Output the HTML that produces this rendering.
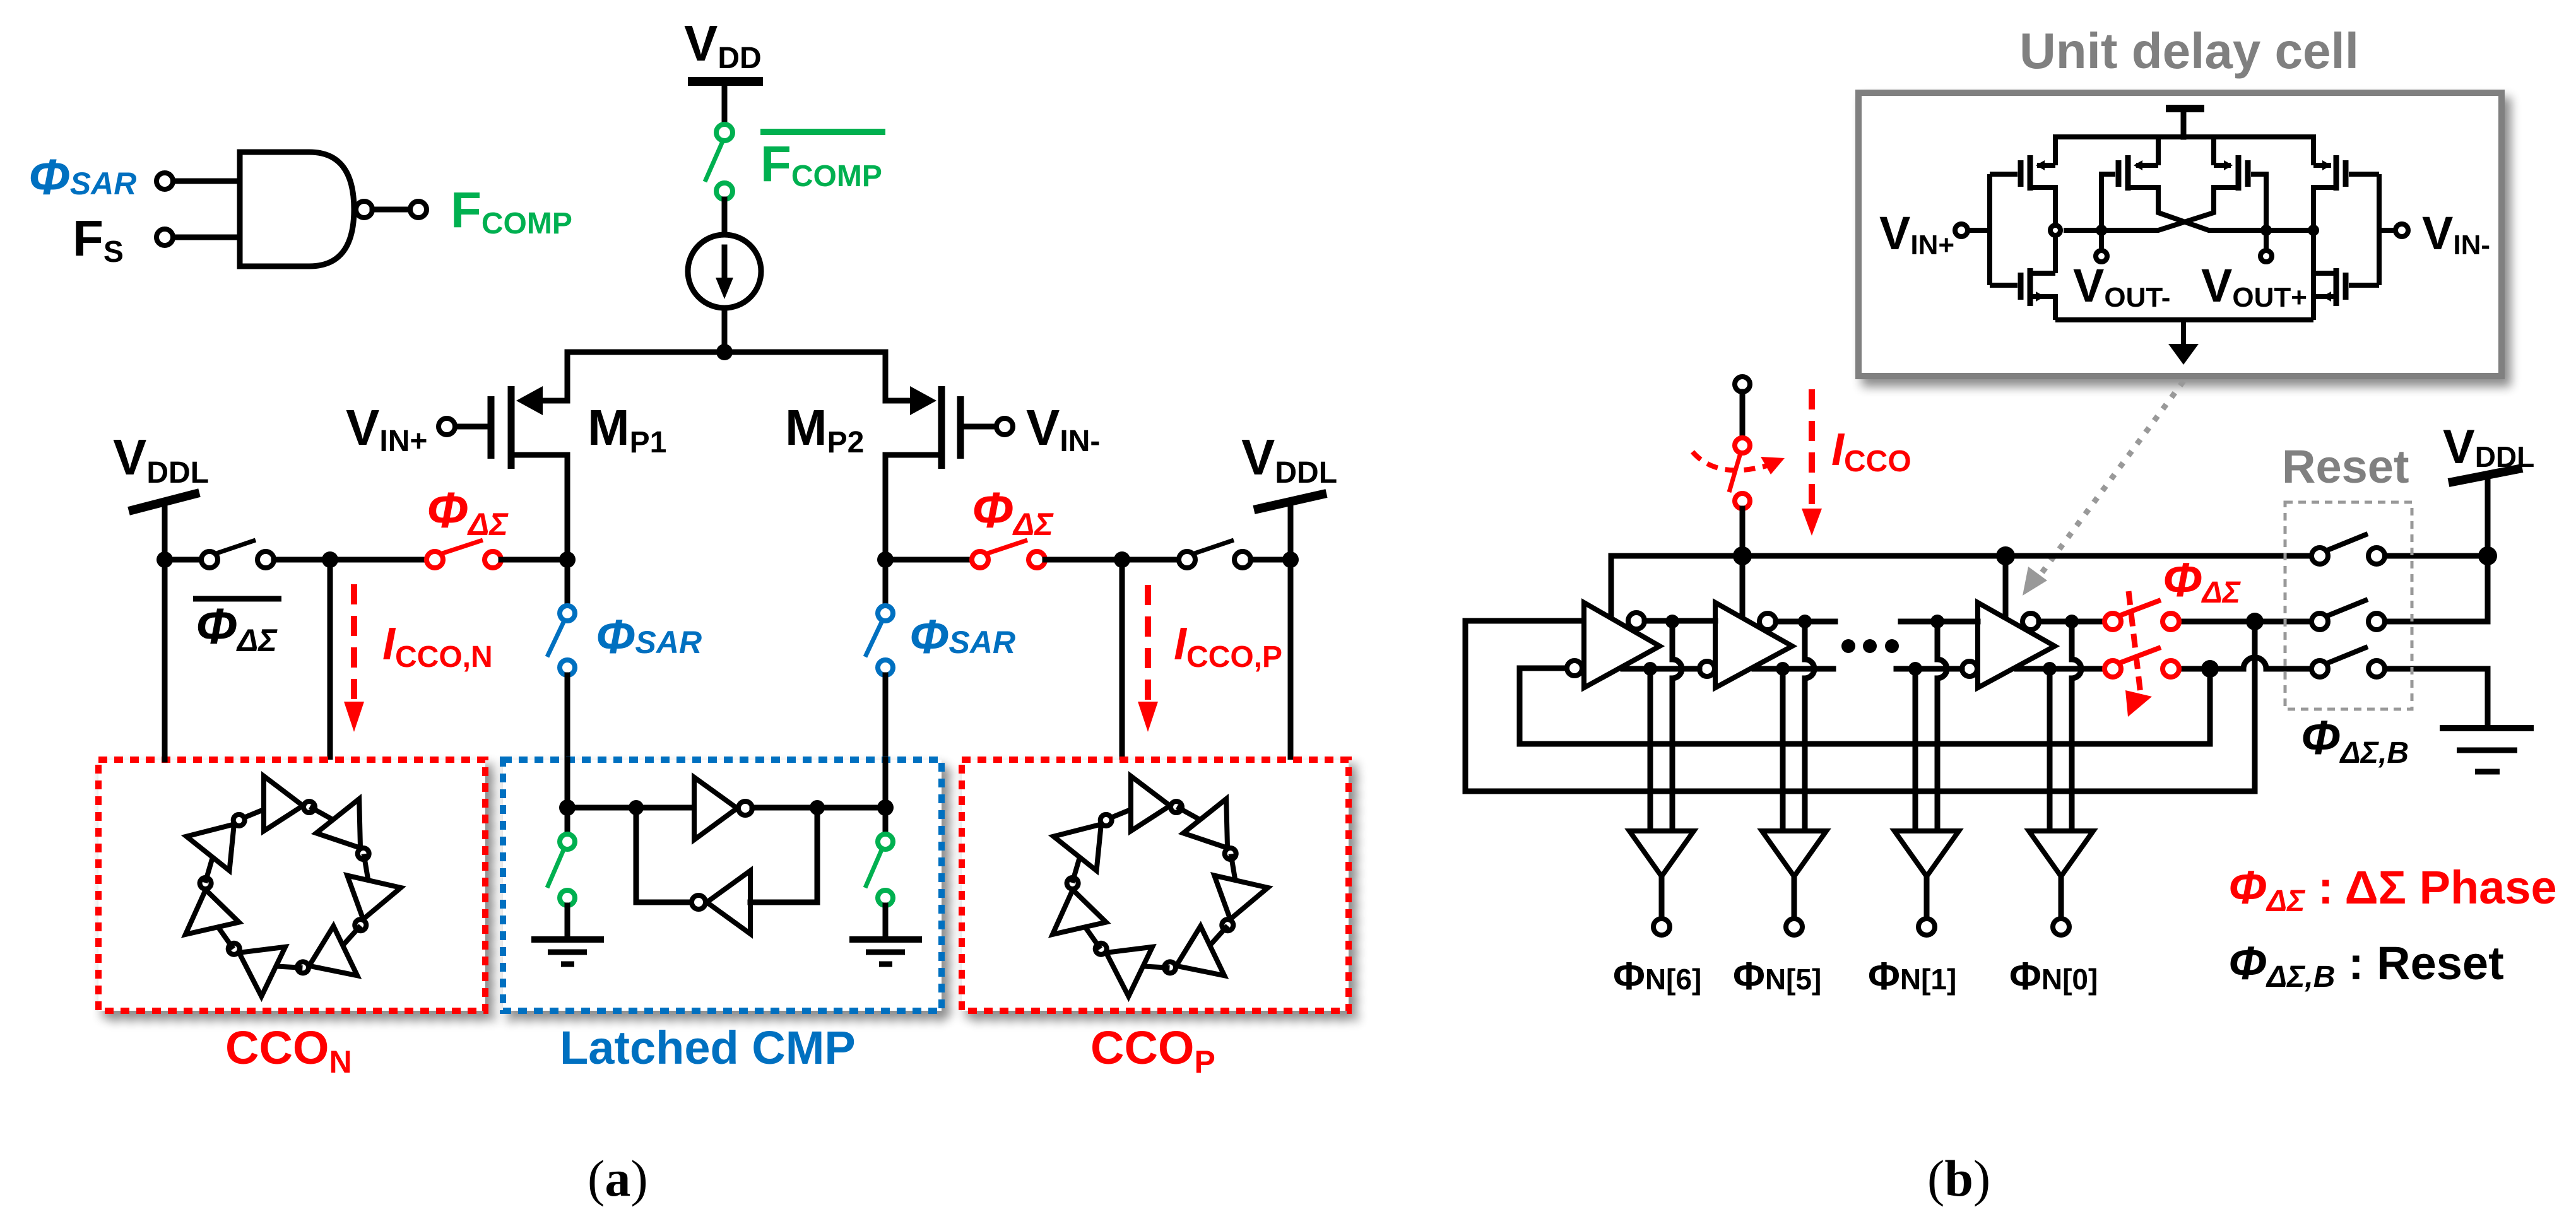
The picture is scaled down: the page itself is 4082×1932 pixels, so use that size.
<!DOCTYPE html>
<html><head><meta charset="utf-8"><style>
html,body{margin:0;padding:0;background:#fff;}
svg{display:block;}
text{font-family:"Liberation Sans",Arial,sans-serif;font-weight:bold;}
.s{stroke:#000;stroke-width:9;fill:none;stroke-linecap:square;}
.t{stroke:#000;stroke-width:8;fill:#fff;}
</style></head><body>
<svg width="4082" height="1932" viewBox="0 0 4082 1932" xmlns="http://www.w3.org/2000/svg">
<defs>
<filter id="sh" x="-10%" y="-10%" width="130%" height="130%"><feGaussianBlur in="SourceAlpha" stdDeviation="8"/><feOffset dx="10" dy="12"/><feComponentTransfer><feFuncA type="linear" slope="0.45"/></feComponentTransfer><feMerge><feMergeNode/><feMergeNode in="SourceGraphic"/></feMerge></filter>
<g id="inv">
<line x1="-77" y1="-106" x2="-38" y2="-122" stroke="#000" stroke-width="8"/>
<polygon points="-38,-175 -38,-88 24,-128" class="t"/>
<circle cx="34" cy="-126" r="9" class="t" stroke-width="7"/>
</g>
<g id="ring">
<use href="#inv"/><use href="#inv" transform="rotate(51.43)"/><use href="#inv" transform="rotate(102.86)"/><use href="#inv" transform="rotate(154.29)"/><use href="#inv" transform="rotate(205.71)"/><use href="#inv" transform="rotate(257.14)"/><use href="#inv" transform="rotate(308.57)"/>
</g>
</defs>

<!-- ================= (a) ================= -->
<!-- VDD -->
<text x="1084" y="96" font-size="80">V<tspan font-size="48" dy="12">DD</tspan></text>
<line x1="1090" y1="129" x2="1209" y2="129" stroke="#000" stroke-width="14"/>
<line x1="1148" y1="129" x2="1148" y2="196" class="s"/>
<!-- green switch -->
<circle cx="1148" cy="210" r="13" fill="#fff" stroke="#00b050" stroke-width="8"/>
<circle cx="1148" cy="303" r="13" fill="#fff" stroke="#00b050" stroke-width="8"/>
<line x1="1117" y1="288" x2="1146" y2="222" stroke="#00b050" stroke-width="7"/>
<line x1="1205" y1="209" x2="1403" y2="209" stroke="#00b050" stroke-width="10"/>
<text x="1205" y="287" font-size="80" fill="#00b050">F<tspan font-size="48" dy="8">COMP</tspan></text>
<line x1="1148" y1="316" x2="1148" y2="372" class="s"/>
<circle cx="1148" cy="430" r="58" class="s"/>
<line x1="1148" y1="392" x2="1148" y2="450" class="s"/>
<polygon points="1134,440 1162,440 1148,474" fill="#000"/>
<line x1="1148" y1="488" x2="1148" y2="558" class="s"/>
<circle cx="1148" cy="558" r="13" fill="#000"/>
<polyline points="899,635 899,558 1403,558 1403,635" class="s"/>
<!-- MP1 -->
<line x1="899" y1="635" x2="850" y2="635" class="s"/>
<polygon points="818,635 860,612 860,658" fill="#000"/>
<line x1="810" y1="612" x2="810" y2="743" stroke="#000" stroke-width="11"/>
<line x1="778" y1="628" x2="778" y2="727" stroke="#000" stroke-width="11"/>
<line x1="722" y1="676" x2="772" y2="676" class="s"/>
<circle cx="708" cy="676" r="13" class="t"/>
<polyline points="816,721 899,721 899,887" class="s"/>
<text x="548" y="705" font-size="80">V<tspan font-size="48" dy="10">IN+</tspan></text>
<text x="931" y="705" font-size="80">M<tspan font-size="48" dy="12">P1</tspan></text>
<!-- MP2 -->
<line x1="1403" y1="635" x2="1450" y2="635" class="s"/>
<polygon points="1484,635 1442,612 1442,658" fill="#000"/>
<line x1="1492" y1="612" x2="1492" y2="743" stroke="#000" stroke-width="11"/>
<line x1="1522" y1="628" x2="1522" y2="727" stroke="#000" stroke-width="11"/>
<line x1="1528" y1="676" x2="1578" y2="676" class="s"/>
<circle cx="1592" cy="676" r="13" class="t"/>
<polyline points="1486,721 1403,721 1403,887" class="s"/>
<text x="1626" y="705" font-size="80">V<tspan font-size="48" dy="10">IN-</tspan></text>
<text x="1244" y="705" font-size="80">M<tspan font-size="48" dy="12">P2</tspan></text>
<!-- NAND -->
<path d="M380,241 H490 Q561,241 561,332 Q561,422 490,422 H380 Z" class="s"/>
<circle cx="577" cy="332" r="13" class="t"/>
<line x1="590" y1="332" x2="650" y2="332" class="s"/>
<circle cx="663" cy="332" r="13" class="t"/>
<line x1="274" y1="287" x2="380" y2="287" class="s"/>
<line x1="274" y1="376" x2="380" y2="376" class="s"/>
<circle cx="261" cy="287" r="13" class="t"/>
<circle cx="261" cy="376" r="13" class="t"/>
<text x="45" y="308" font-size="80" fill="#0070c0" font-style="italic">Φ<tspan font-size="50">SAR</tspan></text>
<text x="115" y="405" font-size="80">F<tspan font-size="48" dy="10">S</tspan></text>
<text x="714" y="360" font-size="80" fill="#00b050">F<tspan font-size="48" dy="10">COMP</tspan></text>
<!-- left VDDL -->
<text x="179" y="752" font-size="80">V<tspan font-size="48" dy="13">DDL</tspan></text>
<line x1="204" y1="810" x2="316" y2="781" stroke="#000" stroke-width="14"/>
<line x1="261" y1="795" x2="261" y2="1205" class="s"/>
<line x1="261" y1="887" x2="319" y2="887" class="s"/>
<circle cx="332" cy="887" r="13" class="t"/>
<line x1="340" y1="878" x2="405" y2="856" stroke="#000" stroke-width="7"/>
<circle cx="421" cy="887" r="13" class="t"/>
<line x1="434" y1="887" x2="676" y2="887" class="s"/>
<circle cx="689" cy="887" r="13" fill="#fff" stroke="#f00" stroke-width="8"/>
<line x1="698" y1="878" x2="765" y2="856" stroke="#f00" stroke-width="7"/>
<circle cx="781" cy="887" r="13" fill="#fff" stroke="#f00" stroke-width="8"/>
<line x1="794" y1="887" x2="899" y2="887" class="s"/>
<line x1="523" y1="887" x2="523" y2="1205" class="s"/>
<circle cx="261" cy="887" r="13" fill="#000"/><circle cx="523" cy="887" r="13" fill="#000"/><circle cx="899" cy="887" r="13" fill="#000"/>
<text x="676" y="836" font-size="80" fill="#f00" font-style="italic">Φ<tspan font-size="50" dy="12">ΔΣ</tspan></text>
<line x1="306" y1="949" x2="446" y2="949" stroke="#000" stroke-width="9"/>
<text x="310" y="1020" font-size="80" font-style="italic">Φ<tspan font-size="50" dy="12">ΔΣ</tspan></text>
<!-- right -->
<line x1="1403" y1="887" x2="1540" y2="887" class="s"/>
<circle cx="1553" cy="887" r="13" fill="#fff" stroke="#f00" stroke-width="8"/>
<line x1="1562" y1="878" x2="1628" y2="856" stroke="#f00" stroke-width="7"/>
<circle cx="1643" cy="887" r="13" fill="#fff" stroke="#f00" stroke-width="8"/>
<line x1="1656" y1="887" x2="1868" y2="887" class="s"/>
<circle cx="1881" cy="887" r="13" class="t"/>
<line x1="1890" y1="878" x2="1955" y2="856" stroke="#000" stroke-width="7"/>
<circle cx="1969" cy="887" r="13" class="t"/>
<line x1="1982" y1="887" x2="2045" y2="887" class="s"/>
<line x1="1778" y1="887" x2="1778" y2="1205" class="s"/>
<line x1="2045" y1="795" x2="2045" y2="1205" class="s"/>
<circle cx="1403" cy="887" r="13" fill="#000"/><circle cx="1778" cy="887" r="13" fill="#000"/><circle cx="2045" cy="887" r="13" fill="#000"/>
<text x="1540" y="836" font-size="80" fill="#f00" font-style="italic">Φ<tspan font-size="50" dy="12">ΔΣ</tspan></text>
<text x="1967" y="752" font-size="80">V<tspan font-size="48" dy="13">DDL</tspan></text>
<line x1="1987" y1="808" x2="2102" y2="782" stroke="#000" stroke-width="14"/>
<!-- current arrows -->
<line x1="561" y1="926" x2="561" y2="1115" stroke="#f00" stroke-width="10" stroke-dasharray="32,18"/>
<polygon points="545,1112 577,1112 561,1160" fill="#f00"/>
<text x="606" y="1045" font-size="72" fill="#f00" font-style="italic">I<tspan font-size="48" font-style="normal" dy="12">CCO,N</tspan></text>
<line x1="1819" y1="927" x2="1819" y2="1115" stroke="#f00" stroke-width="10" stroke-dasharray="32,18"/>
<polygon points="1803,1112 1835,1112 1819,1160" fill="#f00"/>
<text x="1860" y="1045" font-size="72" fill="#f00" font-style="italic">I<tspan font-size="48" font-style="normal" dy="12">CCO,P</tspan></text>
<!-- blue switches -->
<line x1="899" y1="887" x2="899" y2="960" class="s"/>
<circle cx="899" cy="972" r="12" fill="#fff" stroke="#0070c0" stroke-width="8"/>
<line x1="867" y1="1041" x2="893" y2="986" stroke="#0070c0" stroke-width="7"/>
<circle cx="899" cy="1058" r="12" fill="#fff" stroke="#0070c0" stroke-width="8"/>
<line x1="899" y1="1070" x2="899" y2="1322" class="s"/>
<text x="944" y="1035" font-size="76" fill="#0070c0" font-style="italic">Φ<tspan font-size="50">SAR</tspan></text>
<line x1="1403" y1="887" x2="1403" y2="960" class="s"/>
<circle cx="1403" cy="972" r="12" fill="#fff" stroke="#0070c0" stroke-width="8"/>
<line x1="1371" y1="1041" x2="1397" y2="986" stroke="#0070c0" stroke-width="7"/>
<circle cx="1403" cy="1058" r="12" fill="#fff" stroke="#0070c0" stroke-width="8"/>
<line x1="1403" y1="1070" x2="1403" y2="1322" class="s"/>
<text x="1441" y="1035" font-size="76" fill="#0070c0" font-style="italic">Φ<tspan font-size="50">SAR</tspan></text>
<!-- boxes -->
<g filter="url(#sh)">
<rect x="156" y="1204" width="613" height="398" fill="#fff" stroke="#f00" stroke-width="10" stroke-dasharray="14,11"/>
<rect x="797" y="1204" width="695" height="398" fill="#fff" stroke="#0070c0" stroke-width="10" stroke-dasharray="14,11"/>
<rect x="1524" y="1204" width="613" height="398" fill="#fff" stroke="#f00" stroke-width="10" stroke-dasharray="14,11"/>
</g>
<line x1="261" y1="1195" x2="261" y2="1204" class="s"/>
<use href="#ring" transform="translate(456,1405)"/>
<use href="#ring" transform="translate(1830,1405)"/>
<!-- latch -->
<line x1="899" y1="1204" x2="899" y2="1322" class="s"/>
<line x1="1403" y1="1204" x2="1403" y2="1322" class="s"/>
<line x1="899" y1="1280" x2="1100" y2="1280" class="s"/>
<polygon points="1100,1232 1100,1331 1168,1281" class="t"/>
<circle cx="1181" cy="1281" r="11" class="t"/>
<line x1="1192" y1="1280" x2="1403" y2="1280" class="s"/>
<polyline points="1008,1280 1008,1430 1094,1430" class="s"/>
<polygon points="1189,1380 1189,1480 1120,1430" class="t"/>
<circle cx="1107" cy="1430" r="11" class="t"/>
<polyline points="1295,1280 1295,1430 1189,1430" class="s"/>
<circle cx="899" cy="1280" r="13" fill="#000"/><circle cx="1008" cy="1280" r="12" fill="#000"/><circle cx="1295" cy="1280" r="12" fill="#000"/><circle cx="1403" cy="1280" r="13" fill="#000"/>
<g id="gsw">
<circle cx="899" cy="1334" r="12" fill="#fff" stroke="#00b050" stroke-width="8"/>
<line x1="867" y1="1407" x2="893" y2="1347" stroke="#00b050" stroke-width="7"/>
<circle cx="899" cy="1423" r="12" fill="#fff" stroke="#00b050" stroke-width="8"/>
<line x1="899" y1="1435" x2="899" y2="1489" class="s"/>
<line x1="842" y1="1489" x2="957" y2="1489" stroke="#000" stroke-width="10"/>
<line x1="868" y1="1509" x2="930" y2="1509" stroke="#000" stroke-width="9"/>
<line x1="889" y1="1528" x2="910" y2="1528" stroke="#000" stroke-width="9"/>
</g>
<use href="#gsw" transform="translate(504,0)"/>
<text x="357" y="1686" font-size="74" fill="#f00">CCO<tspan font-size="50" dy="14">N</tspan></text>
<text x="887" y="1686" font-size="74" fill="#0070c0">Latched CMP</text>
<text x="1728" y="1686" font-size="74" fill="#f00">CCO<tspan font-size="50" dy="14">P</tspan></text>
<text x="931" y="1895" font-size="82" font-family="Liberation Serif,serif" font-weight="normal" style="font-family:'Liberation Serif',serif;font-weight:normal">(<tspan font-weight="bold">a</tspan>)</text>

<!-- ================= (b) ================= -->
<text x="3200" y="108" font-size="80" fill="#808080">Unit delay cell</text>
<rect x="2945" y="147" width="1019" height="449" fill="#fff" stroke="#808080" stroke-width="10" filter="url(#sh)"/>
<!-- cell internals -->
<line x1="3432" y1="172" x2="3493" y2="172" stroke="#000" stroke-width="12"/>
<line x1="3460" y1="172" x2="3460" y2="217" class="s" stroke-width="8"/>
<g stroke="#000" stroke-width="8" fill="none">
<polyline points="3257,262 3257,217 3666,217 3666,262"/>
<polyline points="3420,217 3420,262"/><polyline points="3508,217 3508,262"/>
<polyline points="3257,507 3666,507"/>
<line x1="3460" y1="507" x2="3460" y2="545"/>
<!-- outer left pmos -->
<line x1="3257" y1="262" x2="3228" y2="262"/>
<line x1="3217" y1="246" x2="3217" y2="302" stroke-width="9"/>
<line x1="3202" y1="254" x2="3202" y2="296" stroke-width="9"/>
<polyline points="3153,276 3197,276"/>
<polyline points="3217,297 3257,297 3257,357"/>
<line x1="3257" y1="373" x2="3257" y2="433"/>
<polyline points="3257,433 3217,433"/>
<line x1="3217" y1="425" x2="3217" y2="485" stroke-width="9"/>
<line x1="3202" y1="432" x2="3202" y2="475" stroke-width="9"/>
<polyline points="3153,452 3197,452"/>
<polyline points="3217,470 3240,470 3257,470 3257,507"/>
<polyline points="3153,276 3153,452"/><line x1="3120" y1="365" x2="3153" y2="365"/>
<!-- outer right -->
<line x1="3666" y1="262" x2="3694" y2="262"/>
<line x1="3702" y1="246" x2="3702" y2="302" stroke-width="9"/>
<line x1="3717" y1="254" x2="3717" y2="296" stroke-width="9"/>
<polyline points="3770,276 3722,276"/>
<polyline points="3702,297 3666,297 3666,507"/>
<polyline points="3666,433 3702,433"/>
<line x1="3702" y1="425" x2="3702" y2="485" stroke-width="9"/>
<line x1="3717" y1="432" x2="3717" y2="475" stroke-width="9"/>
<polyline points="3770,452 3722,452"/>
<polyline points="3702,470 3666,470"/>
<polyline points="3770,276 3770,452"/><line x1="3770" y1="365" x2="3794" y2="365"/>
<!-- inner left -->
<line x1="3420" y1="262" x2="3385" y2="262"/>
<line x1="3372" y1="246" x2="3372" y2="302" stroke-width="9"/>
<line x1="3357" y1="254" x2="3357" y2="296" stroke-width="9"/>
<polyline points="3330,365 3330,276 3352,276"/>
<polyline points="3372,297 3420,297 3420,337 3500,365 3666,365"/>
<!-- inner right -->
<line x1="3508" y1="262" x2="3535" y2="262"/>
<line x1="3547" y1="246" x2="3547" y2="302" stroke-width="9"/>
<line x1="3562" y1="254" x2="3562" y2="296" stroke-width="9"/>
<polyline points="3591,365 3591,276 3567,276"/>
<polyline points="3547,297 3508,297 3508,337 3420,365 3270,365"/>
<line x1="3330" y1="365" x2="3330" y2="396"/><line x1="3591" y1="365" x2="3591" y2="396"/>
</g>
<g fill="#000">
<polygon points="3226,262 3240,254 3240,270"/><polygon points="3240,470 3226,462 3226,478"/>
<polygon points="3694,262 3680,254 3680,270"/><polygon points="3680,470 3694,462 3694,478"/>
<polygon points="3381,262 3395,254 3395,270"/><polygon points="3538,262 3524,254 3524,270"/>
<circle cx="3330" cy="365" r="9"/><circle cx="3591" cy="365" r="9"/><circle cx="3666" cy="365" r="9"/>
<polygon points="3436,545 3484,545 3460,578"/>
</g>
<circle cx="3257" cy="365" r="8" class="t" stroke-width="6"/>
<circle cx="3108" cy="365" r="10" class="t" stroke-width="6"/>
<circle cx="3806" cy="365" r="10" class="t" stroke-width="6"/>
<circle cx="3330" cy="406" r="9" class="t" stroke-width="6"/>
<circle cx="3591" cy="406" r="9" class="t" stroke-width="6"/>
<text x="2978" y="395" font-size="74">V<tspan font-size="44" dy="8">IN+</tspan></text>
<text x="3838" y="395" font-size="74">V<tspan font-size="44" dy="8">IN-</tspan></text>
<text x="3285" y="478" font-size="74">V<tspan font-size="44" dy="8">OUT-</tspan></text>
<text x="3488" y="478" font-size="74">V<tspan font-size="44" dy="8">OUT+</tspan></text>
<!-- gray dotted pointer -->
<line x1="3460" y1="604" x2="3228" y2="918" stroke="#999" stroke-width="9" stroke-dasharray="9,14"/>
<polygon points="3205,944 3214,898 3244,920" fill="#999"/>

<!-- ICCO switch -->
<circle cx="2761" cy="609" r="12" class="t"/>
<line x1="2761" y1="621" x2="2761" y2="694" class="s"/>
<circle cx="2761" cy="706" r="12" fill="#fff" stroke="#f00" stroke-width="8"/>
<line x1="2740" y1="780" x2="2758" y2="718" stroke="#f00" stroke-width="7"/>
<circle cx="2761" cy="794" r="12" fill="#fff" stroke="#f00" stroke-width="8"/>
<line x1="2761" y1="806" x2="2761" y2="881" class="s"/>
<path d="M2682,716 Q2720,760 2800,738" stroke="#f00" stroke-width="8" fill="none" stroke-dasharray="18,12"/>
<polygon points="2828,726 2790,724 2806,752" fill="#f00"/>
<line x1="2871" y1="617" x2="2871" y2="810" stroke="#f00" stroke-width="10" stroke-dasharray="32,18"/>
<polygon points="2855,806 2887,806 2871,849" fill="#f00"/>
<text x="2902" y="737" font-size="72" fill="#f00" font-style="italic">I<tspan font-size="48" font-style="normal" dy="10">CCO</tspan></text>

<!-- rails -->
<polyline points="2553,975 2553,881 3663,881" class="s"/>
<line x1="3779" y1="881" x2="3942" y2="881" class="s"/>
<line x1="2761" y1="881" x2="2761" y2="975" class="s"/>
<line x1="3178" y1="881" x2="3178" y2="975" class="s"/>
<circle cx="2761" cy="881" r="15" fill="#000"/><circle cx="3178" cy="881" r="15" fill="#000"/><circle cx="3942" cy="881" r="15" fill="#000"/>
<!-- left loops -->
<polyline points="2510,984 2322,984 2322,1254 3573,1254 3573,985" class="s"/>
<polyline points="2483,1059 2408,1059 2408,1179 3502,1179 3502,1060" class="s"/>
<!-- inverters -->
<polygon points="2510,955 2510,1090 2630,1024" class="t" stroke-width="9"/>
<circle cx="2495" cy="1059" r="12" class="t"/>
<circle cx="2593" cy="984" r="13" class="t"/>
<polygon points="2718,955 2718,1090 2840,1024" class="t" stroke-width="9"/>
<circle cx="2705" cy="1060" r="12" class="t"/>
<circle cx="2801" cy="985" r="13" class="t"/>
<polygon points="3134,955 3134,1090 3256,1024" class="t" stroke-width="9"/>
<circle cx="3121" cy="1060" r="12" class="t"/>
<circle cx="3218" cy="985" r="13" class="t"/>
<!-- row segments -->
<g class="s">
<line x1="2606" y1="984" x2="2718" y2="984"/><line x1="2572" y1="1060" x2="2693" y2="1060"/>
<line x1="2814" y1="985" x2="2908" y2="985"/><line x1="2780" y1="1060" x2="2905" y2="1060"/>
<line x1="3012" y1="985" x2="3134" y2="985"/><line x1="3005" y1="1060" x2="3109" y2="1060"/>
<line x1="3231" y1="985" x2="3335" y2="985"/><line x1="3196" y1="1060" x2="3335" y2="1060"/>
<line x1="3453" y1="985" x2="3663" y2="985"/>
<polyline points="3453,1060 3555,1060"/>
<path d="M3555,1060 A18,18 0 0 1 3591,1060"/>
<line x1="3591" y1="1060" x2="3663" y2="1060"/>
<polyline points="3779,985 3942,985 3942,881"/>
<polyline points="3779,1060 3942,1060 3942,1154"/>
<line x1="3942" y1="751" x2="3942" y2="881"/>
</g>
<g fill="#000"><circle cx="2929" cy="1024" r="11"/><circle cx="2963" cy="1024" r="11"/><circle cx="2998" cy="1024" r="11"/></g>
<!-- taps -->
<g id="tap">
<path d="M2650,985 V1045 A15,15 0 0 1 2650,1075 V1317" class="s"/>
<line x1="2615" y1="1060" x2="2615" y2="1317" class="s"/>
<circle cx="2650" cy="985" r="11" fill="#000"/><circle cx="2615" cy="1060" r="11" fill="#000"/>
<polygon points="2582,1317 2684,1317 2633,1389" class="t" stroke-width="9"/>
<line x1="2633" y1="1389" x2="2633" y2="1455" class="s"/>
<circle cx="2633" cy="1469" r="13" class="t" stroke-width="9"/>
</g>
<use href="#tap" transform="translate(210,0)"/>
<use href="#tap" transform="translate(420,0)"/>
<use href="#tap" transform="translate(633,0)"/>
<circle cx="3573" cy="985" r="14" fill="#000"/><circle cx="3502" cy="1060" r="14" fill="#000"/>
<text x="2556" y="1568" font-size="62">Φ<tspan font-size="46">N[6]</tspan></text>
<text x="2746" y="1568" font-size="62">Φ<tspan font-size="46">N[5]</tspan></text>
<text x="2960" y="1568" font-size="62">Φ<tspan font-size="46">N[1]</tspan></text>
<text x="3184" y="1568" font-size="62">Φ<tspan font-size="46">N[0]</tspan></text>
<!-- red switches -->
<g stroke="#f00" stroke-width="8" fill="#fff">
<circle cx="3348" cy="985" r="13"/><circle cx="3440" cy="985" r="13"/>
<circle cx="3348" cy="1060" r="13"/><circle cx="3440" cy="1060" r="13"/>
</g>
<line x1="3358" y1="976" x2="3424" y2="951" stroke="#f00" stroke-width="8"/>
<line x1="3358" y1="1051" x2="3424" y2="1026" stroke="#f00" stroke-width="8"/>
<line x1="3373" y1="937" x2="3392" y2="1100" stroke="#f00" stroke-width="9" stroke-dasharray="22,12"/>
<polygon points="3372,1136 3368,1094 3410,1104" fill="#f00"/>
<text x="3427" y="945" font-size="76" fill="#f00" font-style="italic">Φ<tspan font-size="48" dy="10">ΔΣ</tspan></text>
<!-- reset -->
<text x="3616" y="765" font-size="74" fill="#808080">Reset</text>
<rect x="3621" y="796" width="201" height="328" fill="none" stroke="#999" stroke-width="5" stroke-dasharray="12,9"/>
<g class="t">
<circle cx="3676" cy="881" r="13"/><circle cx="3766" cy="881" r="13"/>
<circle cx="3676" cy="985" r="13"/><circle cx="3766" cy="985" r="13"/>
<circle cx="3676" cy="1060" r="13"/><circle cx="3766" cy="1060" r="13"/>
</g>
<g stroke="#000" stroke-width="8">
<line x1="3688" y1="872" x2="3752" y2="846"/>
<line x1="3688" y1="976" x2="3752" y2="950"/>
<line x1="3688" y1="1051" x2="3752" y2="1025"/>
</g>
<text x="3871" y="734" font-size="76">V<tspan font-size="46" dy="6">DDL</tspan></text>
<line x1="3880" y1="765" x2="3997" y2="742" stroke="#000" stroke-width="14"/>
<line x1="3866" y1="1154" x2="4015" y2="1154" stroke="#000" stroke-width="10"/>
<line x1="3893" y1="1189" x2="3989" y2="1189" stroke="#000" stroke-width="9"/>
<line x1="3922" y1="1223" x2="3961" y2="1223" stroke="#000" stroke-width="9"/>
<text x="3646" y="1195" font-size="76" font-style="italic">Φ<tspan font-size="48" dy="14">ΔΣ,B</tspan></text>
<!-- legend -->
<text x="3531" y="1432" font-size="74" fill="#f00"><tspan font-style="italic">Φ</tspan><tspan font-size="48" font-style="italic" dy="12">ΔΣ</tspan><tspan dy="-12"> : ΔΣ Phase</tspan></text>
<text x="3531" y="1552" font-size="74"><tspan font-style="italic">Φ</tspan><tspan font-size="48" font-style="italic" dy="12">ΔΣ,B</tspan><tspan dy="-12" font-weight="normal" style="font-weight:bold"> : Reset</tspan></text>
<text x="3054" y="1895" font-size="82" style="font-family:'Liberation Serif',serif;font-weight:normal">(<tspan font-weight="bold">b</tspan>)</text>
</svg>
</body></html>
